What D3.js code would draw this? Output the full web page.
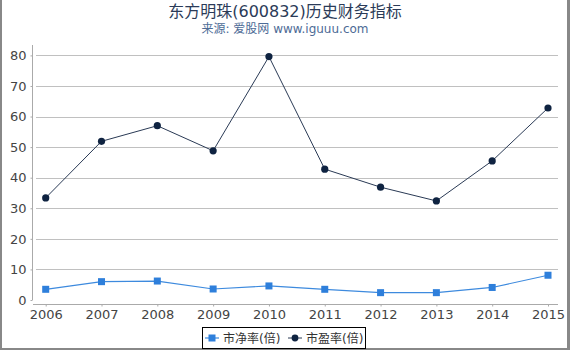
<!DOCTYPE html>
<html>
<head>
<meta charset="utf-8">
<script src="https://cdn.jsdelivr.net/npm/d3@7"></script>
<style>
body { margin: 0; background: #fff; }
svg { display: block; font-family: "DejaVu Sans", "Noto Sans CJK SC", sans-serif; }
</style>
</head>
<body>
<script>
var years = ["2006", "2007", "2008", "2009", "2010", "2011", "2012", "2013", "2014", "2015"];
var pb = [3.5, 6.0, 6.2, 3.6, 4.6, 3.5, 2.4, 2.4, 4.1, 8.1];
var pe = [33.4, 51.9, 57.0, 48.8, 79.6, 42.8, 36.9, 32.4, 45.5, 62.8];
var yTicks = [0, 10, 20, 30, 40, 50, 60, 70, 80];

var width = 570, height = 350;
var plot = {left: 36, right: 558, top: 45, bottom: 300};

var svg = d3.select("body").append("svg")
    .attr("width", width)
    .attr("height", height);

// outer frame (left, right, bottom)
svg.append("rect").attr("x", 0).attr("y", 0).attr("width", 2).attr("height", height).attr("fill", "#888");
svg.append("rect").attr("x", 567).attr("y", 0).attr("width", 3).attr("height", height).attr("fill", "#888");
svg.append("rect").attr("x", 0).attr("y", 348).attr("width", width).attr("height", 2).attr("fill", "#888");

svg.append("text")
    .attr("x", 285).attr("y", 17)
    .attr("text-anchor", "middle")
    .attr("font-size", 16)
    .attr("fill", "#2b3b58")
    .text("东方明珠(600832)历史财务指标");

svg.append("text")
    .attr("x", 285).attr("y", 33)
    .attr("text-anchor", "middle")
    .attr("font-size", 12)
    .attr("fill", "#4d6b96")
    .text("来源: 爱股网 www.iguuu.com");

var xScale = d3.scalePoint()
    .domain(years)
    .range([45.7, 548]);

var yScale = d3.scaleLinear()
    .domain([0, 83.4])
    .range([plot.bottom, plot.top]);

// grid
svg.append("g").selectAll("line")
    .data(yTicks.filter(function(d){ return d > 0; }))
    .enter().append("line")
    .attr("x1", plot.left).attr("x2", plot.right)
    .attr("y1", function(d){ return Math.round(yScale(d)) + 0.5; })
    .attr("y2", function(d){ return Math.round(yScale(d)) + 0.5; })
    .attr("stroke", "#c0c0c0")
    .attr("stroke-width", 1);

// y axis
var yAxis = svg.append("g")
    .attr("transform", "translate(32.5,0)")
    .call(d3.axisLeft(yScale).tickValues(yTicks).tickSize(2).tickSizeOuter(0));
yAxis.select(".domain").attr("stroke", "#aaa").attr("d", "M0," + plot.top + "V" + plot.bottom);
yAxis.selectAll(".tick line").attr("stroke", "#aaa");
yAxis.selectAll(".tick text")
    .attr("font-size", 13)
    .attr("fill", "#444")
    .attr("x", -6)
    .style("font-family", "DejaVu Sans");

// x axis
var xAxis = svg.append("g")
    .attr("transform", "translate(0,304.5)")
    .call(d3.axisBottom(xScale).tickSize(2).tickSizeOuter(0));
xAxis.select(".domain").attr("stroke", "#aaa").attr("d", "M33,0H" + plot.right);
xAxis.selectAll(".tick line").attr("stroke", "#aaa");
xAxis.selectAll(".tick text")
    .attr("font-size", 13)
    .attr("fill", "#444")
    .attr("y", 5)
    .style("font-family", "DejaVu Sans");

var line = d3.line()
    .x(function(d, i){ return xScale(years[i]); })
    .y(function(d){ return yScale(d); });

// PB series
svg.append("path")
    .datum(pb)
    .attr("d", line)
    .attr("fill", "none")
    .attr("stroke", "#3d8ade")
    .attr("stroke-width", 1.2);

svg.append("g").selectAll("rect")
    .data(pb)
    .enter().append("rect")
    .attr("x", function(d, i){ return xScale(years[i]) - 3.5; })
    .attr("y", function(d){ return yScale(d) - 3.5; })
    .attr("width", 7).attr("height", 7)
    .attr("fill", "#2e7fdb");

// PE series
svg.append("path")
    .datum(pe)
    .attr("d", line)
    .attr("fill", "none")
    .attr("stroke", "#2a3a55")
    .attr("stroke-width", 1);

svg.append("g").selectAll("circle")
    .data(pe)
    .enter().append("circle")
    .attr("cx", function(d, i){ return xScale(years[i]); })
    .attr("cy", function(d){ return yScale(d); })
    .attr("r", 3.6)
    .attr("fill", "#0f2341");

// legend
var legend = svg.append("g");
legend.append("rect")
    .attr("x", 202.5).attr("y", 327.5)
    .attr("width", 163).attr("height", 21)
    .attr("fill", "#fff")
    .attr("stroke", "#000")
    .attr("stroke-width", 1);

legend.append("line")
    .attr("x1", 205).attr("x2", 219).attr("y1", 338).attr("y2", 338)
    .attr("stroke", "#3d8ade").attr("stroke-width", 1.2);
legend.append("rect")
    .attr("x", 208.5).attr("y", 334.5).attr("width", 7).attr("height", 7)
    .attr("fill", "#2e7fdb");
legend.append("text")
    .attr("x", 223).attr("y", 342.5)
    .attr("font-size", 12).attr("fill", "#333")
    .text("市净率(倍)");

legend.append("line")
    .attr("x1", 288).attr("x2", 302).attr("y1", 338).attr("y2", 338)
    .attr("stroke", "#2a3a55").attr("stroke-width", 1);
legend.append("circle")
    .attr("cx", 295).attr("cy", 338).attr("r", 3.4)
    .attr("fill", "#0f2341");
legend.append("text")
    .attr("x", 306).attr("y", 342.5)
    .attr("font-size", 12).attr("fill", "#333")
    .text("市盈率(倍)");
</script>
</body>
</html>
